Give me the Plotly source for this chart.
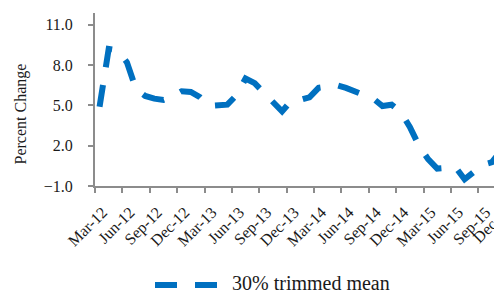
import plotly.graph_objects as go

months = ["Mar-12","Apr-12","May-12","Jun-12","Jul-12","Aug-12","Sep-12","Oct-12","Nov-12","Dec-12",
          "Jan-13","Feb-13","Mar-13","Apr-13","May-13","Jun-13","Jul-13","Aug-13","Sep-13","Oct-13","Nov-13","Dec-13",
          "Jan-14","Feb-14","Mar-14","Apr-14","May-14","Jun-14","Jul-14","Aug-14","Sep-14","Oct-14","Nov-14","Dec-14",
          "Jan-15","Feb-15","Mar-15","Apr-15","May-15","Jun-15","Jul-15","Aug-15","Sep-15","Oct-15","Nov-15","Dec-15"]
trimmed_mean = [4.9, 9.2, 9.1, 8.2, 6.2, 5.7, 5.5, 5.4, 5.65, 6.05,
                6.0, 5.6, 4.95, 5.0, 5.05, 5.75, 7.0, 6.65, 5.9, 5.2, 4.55, 5.35,
                5.4, 5.6, 6.3, 6.4, 6.5, 6.3, 6.0, 5.75, 5.5, 4.95, 5.05, 4.5,
                3.4, 2.0, 1.0, 0.3, 0.4, 0.4, -0.5, 0.0, 0.58, 0.77, 1.65, 2.5]
y_ticks = [-1.0, 2.0, 5.0, 8.0, 11.0]
series_name = "30% trimmed mean"

idx = list(range(len(months)))
label_idx = idx[::3]
label_text = months[::3]
boundaries = [i - 0.5 for i in label_idx]

BLUE = "#0070C0"
AX = "#8C8C8C"
CLEAR = "rgba(0,0,0,0)"
FONT = "Liberation Serif"
TXT = "#1a1a1a"

# page body has an 8px margin; figure sized so it fills the 502x290 window
W, H = 494, 282
ML, MT, MB = 87, 5, 104
PW = W - ML
PH = H - MT - MB

def px(xw):  # window x -> paper x
    return (xw - 8 - ML) / PW

def py(yw):  # window y -> paper y
    return (H - MB - (yw - 8)) / PH

fig = go.Figure()
fig.add_trace(go.Scatter(x=idx, y=trimmed_mean, mode="lines", name=series_name,
                         line=dict(color=BLUE, width=6, dash="22px,18px"),
                         showlegend=False))
fig.add_trace(go.Scatter(x=[idx[0]], y=[trimmed_mean[0]], xaxis="x2", yaxis="y2", mode="markers",
                         marker=dict(opacity=0), showlegend=False, hoverinfo="skip"))

fig.update_layout(
    width=W, height=H,
    margin=dict(l=ML, r=0, t=MT, b=MB, pad=0),
    paper_bgcolor="white", plot_bgcolor="white",
    font=dict(family=FONT, size=16, color=TXT),
    # x labels (invisible ticks push labels down)
    xaxis=dict(range=[-0.5, 44.1], tickmode="array", tickvals=label_idx, ticktext=label_text,
               tickangle=-45, ticks="outside", ticklen=9, tickcolor=CLEAR, ticklabelshift=3,
               showgrid=False, zeroline=False,
               showline=True, linecolor=AX, linewidth=1.5, automargin=False),
    # visible x tick marks between categories
    xaxis2=dict(overlaying="x", matches="x", anchor="y", side="bottom",
                tickmode="array", tickvals=boundaries, ticks="outside", ticklen=6,
                tickcolor=AX, tickwidth=1.5, showticklabels=False, showgrid=False,
                zeroline=False, showline=False),
    # visible y ticks
    yaxis=dict(range=[-1, 11.87], tickmode="array", tickvals=y_ticks,
               ticks="outside", ticklen=5, tickcolor=AX, tickwidth=1.5, showticklabels=False,
               showline=True, linecolor=AX, linewidth=1.5, showgrid=False, zeroline=False,
               automargin=False),
    # y labels
    yaxis2=dict(overlaying="y", matches="y", anchor="x", side="left",
                tickmode="array", tickvals=y_ticks, tickformat=".1f",
                ticks="outside", ticklen=18, tickcolor=CLEAR,
                showline=False, showgrid=False, zeroline=False, automargin=False),
)

# y-axis title
fig.add_annotation(text="Percent Change", textangle=-90, xref="paper", yref="paper",
                   x=px(20.5), y=py(114), xanchor="center", yanchor="middle",
                   showarrow=False, font=dict(size=16, family=FONT, color=TXT))

# partial last label (cut at right edge)
fig.add_annotation(text="Dec-15", textangle=-45, xref="paper", yref="paper",
                   x=px(492.3), y=py(223.8), xanchor="center", yanchor="middle",
                   showarrow=False, font=dict(size=16, family=FONT, color=TXT))

# legend
fig.add_shape(type="line", xref="paper", yref="paper", x0=px(155), x1=px(218),
              y0=py(285), y1=py(285), line=dict(color=BLUE, width=6, dash="22px,18px"))
fig.add_annotation(text=series_name, xref="paper", yref="paper", x=px(230), y=py(283),
                   xanchor="left", yanchor="middle", showarrow=False,
                   font=dict(size=20, family=FONT, color=TXT))

fig.write_html("out.html")
